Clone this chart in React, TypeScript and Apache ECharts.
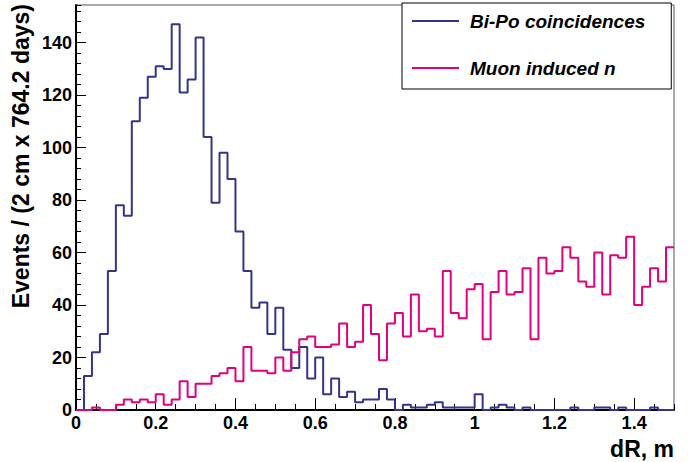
import React, { useEffect, useRef } from "react";
import * as echarts from "echarts";

const BIN_WIDTH = 0.02;
const X_MAX = 1.5;
const Y_MAX = 154.35;

const SERIES_NAMES = ["Bi-Po coincidences", "Muon induced n"];

// counts per 2 cm bin, 0 .. 1.5 m (75 bins)
const biPoCounts = [
  0, 13, 22, 29, 53, 78, 74, 110, 119, 127,
  131, 130, 147, 121, 126, 142, 104, 79, 98, 88,
  68, 53, 39, 41, 29, 39, 23, 16, 24, 12,
  20, 6, 12, 5, 7, 3, 4, 4, 8, 4,
  0, 2, 1, 1, 2, 3, 1, 1, 1, 1,
  6, 0, 1, 2, 1, 0, 1, 0, 0, 0,
  0, 0, 1, 0, 0, 1, 1, 0, 1, 0,
  0, 0, 1, 0, 0,
];

const muonCounts = [
  0, 0, 1, 0, 0, 2, 4, 3, 4, 3,
  6, 2, 4, 11, 5, 10, 10, 13, 14, 16,
  11, 24, 15, 15, 14, 20, 15, 22, 27, 28,
  24, 24, 25, 33, 24, 26, 40, 29, 19, 33,
  37, 28, 44, 30, 31, 28, 53, 37, 35, 46,
  48, 27, 45, 53, 44, 45, 54, 27, 58, 52,
  53, 62, 58, 49, 47, 60, 44, 59, 58, 66,
  40, 47, 54, 49, 62,
];

const BLUE = "#33348f";
const MAGENTA = "#e2007f";
const FONT = "Liberation Sans";

const toSteps = (counts: number[]) => [
  ...counts.map((v, i) => [Number((i * BIN_WIDTH).toFixed(2)), v]),
  [X_MAX, counts[counts.length - 1]],
];

export default function App() {
  const ref = useRef<HTMLDivElement>(null);

  useEffect(() => {
    document.body.style.margin = "0";
    const chart = echarts.init(ref.current!, null, { renderer: "svg" });
    const labelStyle = {
      color: "#000",
      fontFamily: FONT,
      fontWeight: "bold" as const,
      fontSize: 18,
    };
    chart.setOption({
      animation: false,
      backgroundColor: "#fff",
      grid: {
        left: 76,
        right: 17,
        top: 5,
        bottom: 52,
        show: true,
        borderColor: "#555",
        borderWidth: 1,
        backgroundColor: "transparent",
      },
      xAxis: [
        {
          type: "value",
          min: 0,
          max: X_MAX,
          interval: 0.2,
          position: "bottom",
          axisLine: { show: true, onZero: false, lineStyle: { color: "#000", width: 2 } },
          axisTick: { show: true, inside: true, length: 12, lineStyle: { color: "#000", width: 1 } },
          axisLabel: { ...labelStyle, margin: 4, showMaxLabel: false },
          splitLine: { show: false },
          name: "dR, m",
          nameLocation: "end",
          nameGap: 0,
          nameTextStyle: {
            color: "#000",
            fontFamily: FONT,
            fontWeight: "bold",
            fontSize: 23,
            align: "right",
            verticalAlign: "top",
            padding: [27, 0, 0, 0],
          },
        },
        {
          type: "value",
          min: 0,
          max: X_MAX,
          interval: 0.05,
          position: "bottom",
          axisLine: { show: false },
          axisTick: { show: true, inside: true, length: 6, lineStyle: { color: "#000", width: 1 } },
          axisLabel: { show: false },
          splitLine: { show: false },
        },
      ],
      yAxis: [
        {
          type: "value",
          min: 0,
          max: Y_MAX,
          interval: 20,
          position: "left",
          axisLine: { show: true, onZero: false, lineStyle: { color: "#000", width: 2 } },
          axisTick: { show: true, inside: true, length: 10, lineStyle: { color: "#000", width: 1 } },
          axisLabel: { ...labelStyle, margin: 4, showMaxLabel: false },
          splitLine: { show: false },
        },
        {
          type: "value",
          min: 0,
          max: Y_MAX,
          interval: 4,
          position: "left",
          axisLine: { show: false },
          axisTick: { show: true, inside: true, length: 5, lineStyle: { color: "#000", width: 1 } },
          axisLabel: { show: false },
          splitLine: { show: false },
        },
      ],
      legend: {
        orient: "vertical",
        left: 402,
        top: 3,
        icon: "rect",
        itemWidth: 47,
        itemHeight: 2,
        itemGap: 27,
        padding: [8, 26, 11, 10],
        backgroundColor: "#fff",
        borderColor: "#000",
        borderWidth: 1,
        itemStyle: { borderWidth: 0 },
        textStyle: {
          color: "#000",
          fontFamily: FONT,
          fontWeight: "bold",
          fontStyle: "italic",
          fontSize: 19,
          lineHeight: 20,
          padding: [0, 0, 0, 6],
        },
        data: SERIES_NAMES,
      },
      graphic: [
        {
          type: "text",
          x: 21,
          y: 4,
          rotation: Math.PI / 2,
          style: {
            text: "Events / (2 cm x 764.2 days)",
            font: `bold 23px "${FONT}"`,
            fill: "#000",
            align: "right",
            verticalAlign: "middle",
          },
        },
      ],
      series: [
        {
          name: SERIES_NAMES[0],
          type: "line",
          step: "end",
          xAxisIndex: 0,
          yAxisIndex: 0,
          data: toSteps(biPoCounts),
          symbol: "none",
          color: BLUE,
          lineStyle: { color: BLUE, width: 2 },
          itemStyle: { color: BLUE },
        },
        {
          name: SERIES_NAMES[1],
          type: "line",
          step: "end",
          xAxisIndex: 0,
          yAxisIndex: 0,
          data: toSteps(muonCounts),
          symbol: "none",
          color: MAGENTA,
          lineStyle: { color: MAGENTA, width: 2 },
          itemStyle: { color: MAGENTA },
        },
      ],
    });
    return () => chart.dispose();
  }, []);

  return <div ref={ref} style={{ width: 691, height: 462 }} />;
}
